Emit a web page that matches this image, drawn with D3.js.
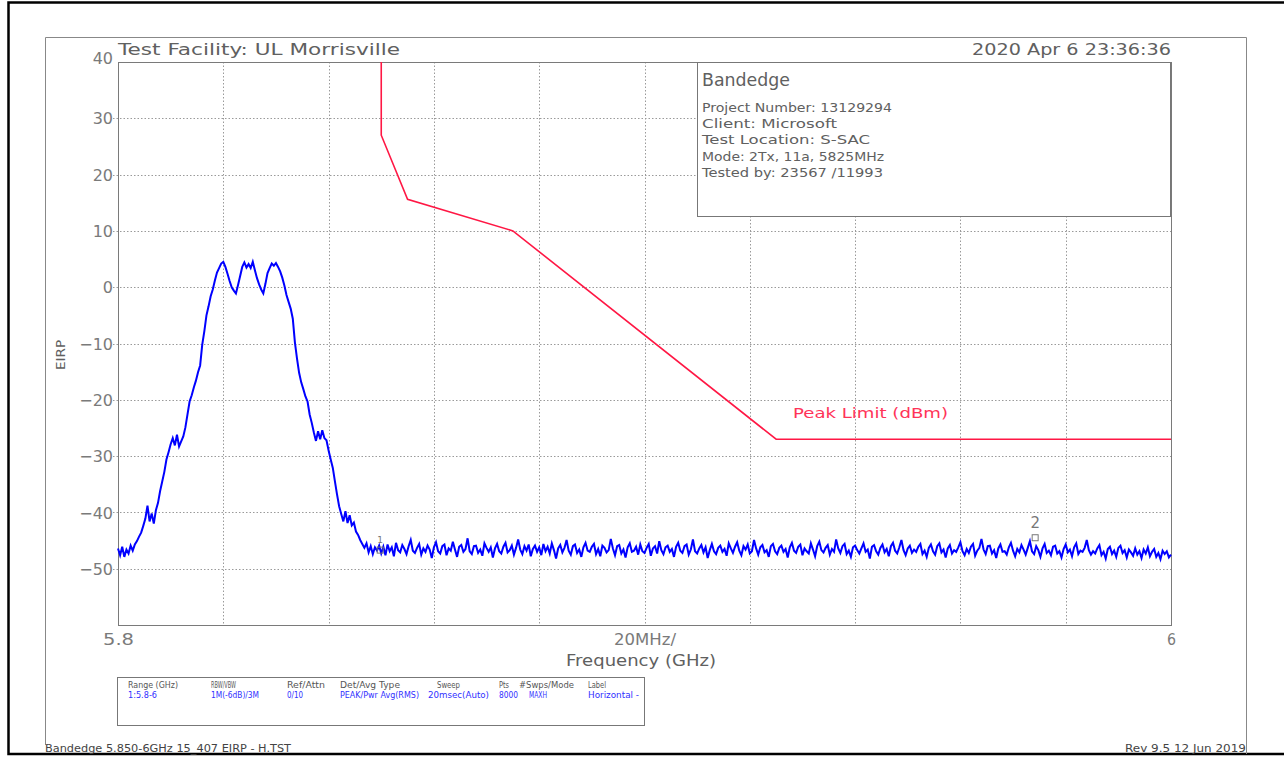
<!DOCTYPE html>
<html><head><meta charset="utf-8">
<script src="https://cdn.jsdelivr.net/npm/d3@7"></script>
<style>body{margin:0;background:#fff;} svg{display:block;}</style>
</head><body>
<svg id="c" width="1284" height="759"></svg>
<script>
// ---------- data ----------
const yTickValues = [40, 30, 20, 10, 0, -10, -20, -30, -40, -50];
const xGridValues = [5.82, 5.84, 5.86, 5.88, 5.90, 5.92, 5.94, 5.96, 5.98];
const xTickValues = [5.8, 5.9, 6.0];
const xTickLabels = ["5.8", "20MHz/", "6"];
const limitFreqs  = [5.850, 5.850, 5.855, 5.875, 5.925, 6.000];
const limitValues = [40, 27, 15.6, 10, -27, -27];
const traceStartGHz = 5.8, traceEndGHz = 6.0;
const traceValues = [
-46.4,-47.6,-46.1,-47.9,-46.6,-47.3,-45.9,-46.8,-45.7,-45.1,-44.3,-43.6,-42.4,-41.1,-38.8,-41.6,-40.2,-42.0,-39.6,-38.3,
-36.2,-34.5,-32.8,-30.6,-29.3,-27.9,-26.8,-28.1,-26.2,-28.3,-27.4,-26.5,-24.9,-22.6,-20.3,-19.2,-17.8,-16.6,-15.1,-13.9,
-10.2,-7.8,-5.0,-3.4,-1.6,-0.4,1.2,2.6,3.4,4.2,4.5,3.6,2.4,1.1,0.0,-0.6,-1.1,0.4,2.0,3.6,
4.4,3.5,4.1,3.4,4.5,3.0,1.6,0.5,-0.4,-1.1,0.6,2.5,3.4,4.2,3.8,4.3,3.6,2.8,1.7,0.3,
-1.4,-2.6,-3.8,-5.6,-9.8,-12.7,-15.2,-16.9,-18.1,-19.4,-20.3,-22.6,-24.1,-25.8,-27.3,-25.6,-27.0,-25.4,-26.8,-27.2,
-29.0,-30.6,-32.1,-34.5,-36.8,-38.9,-40.3,-41.6,-39.8,-41.9,-40.5,-42.3,-41.8,-43.4,-44.0,-44.9,-45.6,-46.3,-45.5,-47.1,
-46.0,-47.4,-46.2,
-46.8,-45.9,-47.3,-46.1,-47.6,-45.7,-46.9,-46.2,-47.8,-45.4,-46.7,-47.1,-45.8,-46.5,-47.4,-46.0,-44.9,-46.8,-47.2,-46.3,
-45.6,-47.5,-46.4,-47.0,-45.9,-46.6,-48.1,-46.2,-45.3,-46.9,-47.3,-46.0,-45.7,-47.6,-46.4,-46.8,-45.2,-46.6,-47.9,-46.1,
-45.8,-47.0,-46.5,-44.6,-46.9,-47.4,-46.0,-45.9,-47.2,-46.6,-47.7,-45.5,-46.3,-47.0,-46.2,-48.0,-46.4,-45.6,-46.9,-47.3,
-46.1,-45.4,-47.1,-46.7,-45.9,-47.5,-46.3,-44.8,-46.6,-47.4,-46.0,-46.8,-45.7,-47.8,-46.5,-45.9,-47.0,-46.2,-47.6,-45.6,
-46.9,-46.1,-47.3,-45.5,-46.7,-48.2,-46.4,-45.8,-47.1,-46.3,-44.9,-46.8,-47.5,-46.0,-45.7,-47.2,-46.6,-47.9,-46.2,-45.4,
-46.8,-47.0,-46.1,-45.6,-47.4,-46.5,-47.8,-45.9,-46.3,-47.1,-46.7,-44.7,-46.4,-47.6,-46.0,-45.8,-47.3,-46.6,-48.0,-46.2,
-45.5,-47.0,-46.8,-46.1,-47.5,-45.7,-46.9,-47.2,-46.3,-45.6,-47.7,-46.4,-46.0,-47.3,-45.1,-46.7,-47.4,-46.2,-45.9,-47.0,
-46.5,-47.9,-46.1,-45.4,-46.8,-47.2,-46.0,-45.7,-47.5,-46.6,-44.8,-46.9,-47.3,-46.4,-45.8,-47.1,-46.2,-48.1,-46.7,-45.6,
-46.9,-47.4,-46.3,-45.9,-47.0,-46.5,-47.7,-45.5,-46.4,-47.2,-46.1,-45.3,-46.8,-47.6,-46.0,-46.6,-45.7,-47.3,-46.9,-44.9,
-46.4,-47.5,-46.2,-45.8,-47.1,-46.7,-47.9,-46.0,-45.6,-46.9,-47.4,-46.3,-45.9,-47.0,-46.5,-48.0,-46.2,-45.4,-46.8,-47.2,
-46.1,-45.7,-47.6,-46.4,-46.9,-47.3,-45.5,-46.6,-47.8,-46.0,-45.2,-46.7,-47.1,-46.3,-45.8,-47.5,-46.5,-47.0,-44.8,-46.4,
-47.2,-46.0,-45.6,-47.4,-46.8,-47.9,-46.2,-45.9,-46.7,-47.3,-46.4,-45.5,-47.0,-46.6,-48.2,-46.1,-45.8,-46.9,-47.5,-46.3,
-45.7,-47.1,-46.5,-47.8,-46.0,-45.4,-46.8,-47.3,-46.2,-44.9,-46.7,-47.6,-46.4,-45.9,-47.2,-46.6,-47.0,-46.1,-45.6,-47.4,
-46.8,-47.9,-46.3,-45.7,-46.9,-47.5,-46.0,-45.5,-47.1,-46.6,-48.0,-46.4,-45.8,-47.3,-46.7,-47.0,-46.2,-45.3,-46.9,-47.6,
-46.5,-47.2,-46.1,-45.6,-47.7,-46.8,-46.3,-44.7,-46.6,-47.4,-46.0,-45.9,-47.3,-46.7,-48.1,-46.4,-45.7,-47.0,-46.9,-47.5,
-46.2,-45.4,-46.8,-47.8,-46.5,-47.1,-45.8,-46.6,-47.5,-46.3,-45.1,-46.9,-47.4,-46.0,-46.7,-47.9,-46.4,-45.6,-47.2,-46.8,
-47.6,-46.1,-45.9,-47.3,-46.9,-48.0,-46.5,-45.7,-47.1,-46.6,-47.8,-46.2,-45.5,-47.4,-46.8,-47.0,-46.3,-44.9,-46.7,-47.5,
-46.9,-47.3,-46.4,-45.8,-47.6,-47.0,-48.2,-46.5,-46.1,-47.4,-46.8,-47.9,-46.3,-45.9,-47.2,-46.7,-48.0,-46.6,-47.1,-47.7,
-46.4,-47.5,-46.9,-48.1,-46.6,-47.3,-46.2,-47.8,-47.0,-46.5,-47.9,-47.2,-48.3,-46.8,-47.4,-46.9,-48.0,-47.5
];
const markerFreqs  = [5.8498, 5.9742];
const markerValues = [-46.7, -44.5];
const markerLabels = ["1", "2"];
const headerLeft  = "Test Facility:  UL Morrisville";
const headerRight = "2020 Apr 6    23:36:36";
const infoTitle = "Bandedge";
const infoLines = ["Project Number: 13129294", "Client: Microsoft", "Test Location: S-SAC",
                   "Mode: 2Tx, 11a, 5825MHz", "Tested by: 23567 /11993"];
const legendHeaders = ["Range (GHz)", "RBW/VBW", "Ref/Attn", "Det/Avg Type", "Sweep", "Pts", "#Swps/Mode", "Label"];
const legendValues  = ["1:5.8-6", "1M(-6dB)/3M", "0/10", "PEAK/Pwr Avg(RMS)", "20msec(Auto)", "8000", "MAXH", "Horizontal -"];
const limitLabel = "Peak Limit (dBm)";
const xAxisTitle = "Frequency (GHz)";
const yAxisTitle = "EIRP";
const footerLeft = "Bandedge 5.850-6GHz 15_407 EIRP - H.TST";
const footerRight = "Rev 9.5 12 Jun 2019";

// ---------- drawing ----------
const svg = d3.select("#c");
const FONT = "'DejaVu Sans', 'Liberation Sans', sans-serif";
const GREY = "#606060";
const plot = {l:118, r:1171, t:62, b:625};
const x = d3.scaleLinear().domain([5.8, 6.0]).range([plot.l, plot.r]);
const y = d3.scaleLinear().domain([-60, 40]).range([plot.b, plot.t]);

function text(str, px, py, size, opts = {}) {
  const t = svg.append("text").attr("x", px).attr("y", py)
    .attr("font-family", opts.family || FONT).attr("font-size", size)
    .attr("fill", opts.fill || GREY).attr("text-anchor", opts.anchor || "start")
    .text(str);
  if (opts.len) t.attr("textLength", opts.len).attr("lengthAdjust", "spacingAndGlyphs");
  if (opts.transform) t.attr("transform", opts.transform);
  return t;
}

// outer black frame (top, left, bottom)
svg.append("path").attr("d", "M1284,2.5 H8.5 V754 H1284").attr("fill", "none")
  .attr("stroke", "#000").attr("stroke-width", 2.5);
// inner gray frame
svg.append("path").attr("d", "M45.5,745 V37.5 H1246.5 V754").attr("fill", "none")
  .attr("stroke", "#888").attr("stroke-width", 1);

// gridlines
const grid = svg.append("g").attr("stroke", "#9a9a9a").attr("stroke-width", 1).attr("stroke-dasharray", "1.5,2");
grid.selectAll("line.h").data(yTickValues.filter(v => v !== 40)).join("line")
  .attr("x1", plot.l - 5).attr("x2", plot.r).attr("y1", d => Math.round(y(d)) + 0.5).attr("y2", d => Math.round(y(d)) + 0.5);
grid.selectAll("line.v").data(xGridValues).join("line")
  .attr("y1", plot.t).attr("y2", plot.b).attr("x1", d => Math.round(x(d)) + 0.5).attr("x2", d => Math.round(x(d)) + 0.5);

// plot box
svg.append("rect").attr("x", plot.l + 0.5).attr("y", plot.t + 0.5)
  .attr("width", plot.r - plot.l).attr("height", plot.b - plot.t)
  .attr("fill", "none").attr("stroke", "#7a7a7a").attr("stroke-width", 1);

// y-axis via d3 axis (labels only)
const yAxis = d3.axisLeft(y).tickValues(yTickValues).tickSize(0).tickPadding(5).tickFormat(d3.format("d"));
const yg = svg.append("g").attr("transform", `translate(${plot.l},0)`).call(yAxis);
yg.select(".domain").remove();
yg.selectAll("text").attr("font-family", FONT).attr("font-size", 16).attr("fill", "#7a7a7a")
  .attr("dy", d => d === 40 ? "0.1em" : "0.35em").text(d => d < 0 ? "\u2212" + Math.abs(d) : d);

// x-axis labels via d3 axis
const xAxis = d3.axisBottom(x).tickValues(xTickValues).tickSize(0).tickPadding(9)
  .tickFormat((d, i) => xTickLabels[i]);
const xg = svg.append("g").attr("transform", `translate(0,${plot.b})`).call(xAxis);
xg.select(".domain").remove();
const xLens = [31, 62, 9];
xg.selectAll("text").attr("font-family", FONT).attr("font-size", 16).attr("fill", "#7a7a7a")
  .attr("textLength", (d, i) => xLens[i]).attr("lengthAdjust", "spacingAndGlyphs");

// axis titles
text(xAxisTitle, 641, 666, 15, {anchor: "middle", len: 150, fill: "#606060"});
text(yAxisTitle, 0, 0, 13, {anchor: "middle", len: 30, transform: "translate(65,355) rotate(-90)"});

// header
text(headerLeft, 118, 55, 15, {len: 282});
text(headerRight, 1171, 55, 15, {anchor: "end", len: 199});

// info box
svg.append("rect").attr("x", 697.5).attr("y", 62.5).attr("width", 473).attr("height", 154)
  .attr("fill", "#fff").attr("stroke", "#777").attr("stroke-width", 1);
text(infoTitle, 702, 86, 18, {len: 88});
const infoLens = [190, 135, 168, 182, 181];
infoLines.forEach((s, i) => text(s, 702, 112 + i * 16.2, 13, {len: infoLens[i]}));

// limit line
const lineGen = d3.line().x(d => x(d[0])).y(d => y(d[1]));
svg.append("path").datum(limitFreqs.map((f, i) => [f, limitValues[i]]))
  .attr("d", lineGen).attr("fill", "none").attr("stroke", "#ff1744").attr("stroke-width", 1.6);
text(limitLabel, 793, 418, 14, {fill: "#ff3358", len: 155});

// trace
const n = traceValues.length;
const step = (traceEndGHz - traceStartGHz) / (n - 1);
svg.append("path").datum(traceValues.map((v, i) => [traceStartGHz + i * step, v]))
  .attr("d", lineGen).attr("fill", "none").attr("stroke", "#0000ff").attr("stroke-width", 2)
  .attr("stroke-linejoin", "miter");

// markers
markerFreqs.forEach((f, i) => {
  const mx = x(f), my = y(markerValues[i]);
  const big = i === 1;
  svg.append("rect").attr("x", mx - 3).attr("y", my - 3).attr("width", 6).attr("height", 6)
    .attr("fill", "none").attr("stroke", "#777").attr("stroke-width", 1);
  text(markerLabels[i], mx, my - (big ? 10 : 7), big ? 15 : 9, {anchor: "middle", fill: "#777"});
});

// legend box
svg.append("rect").attr("x", 117.5).attr("y", 677.5).attr("width", 527).attr("height", 48)
  .attr("fill", "#fff").attr("stroke", "#777").attr("stroke-width", 1);
const legX = [128, 211, 287, 340, 437, 499, 519, 588];
const legHLen = [50, 25, 38, 60, 23, 10, 55, 18];
const legVLen = [29, 48, 16, 79, 61, 19, 18, 51];
const legVX = [128, 211, 287, 340, 428, 499, 529, 588];
legendHeaders.forEach((s, i) => text(s, legX[i], 688, 9, {len: legHLen[i], fill: "#555"}));
legendValues.forEach((s, i) => text(s, legVX[i], 698, 9, {len: legVLen[i], fill: "#3030ff"}));

// footer
text(footerLeft, 45, 752, 10.5, {len: 246, fill: "#444"});
text(footerRight, 1246, 752, 10.5, {anchor: "end", len: 121, fill: "#444"});
</script>
</body></html>
